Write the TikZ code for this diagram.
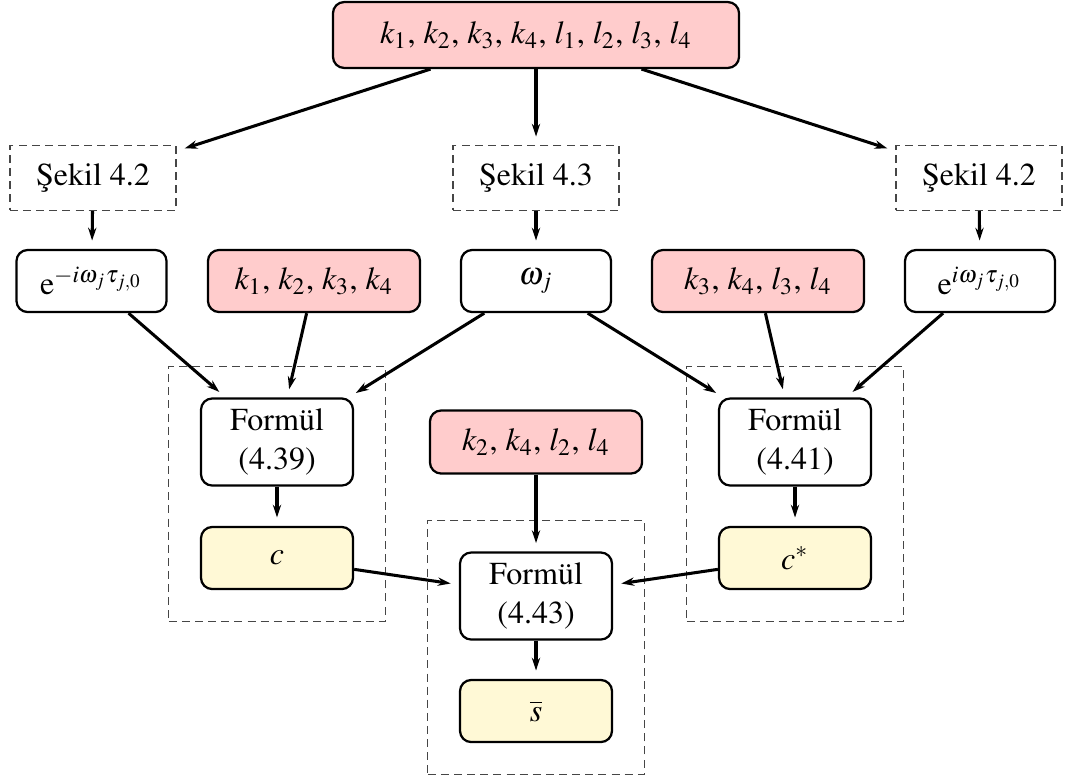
\documentclass[tikz,border=0pt]{standalone}
\usepackage[T1]{fontenc}
\usepackage{mathptmx}
\usetikzlibrary{arrows.meta,fit}
\definecolor{pinkfill}{RGB}{255,204,204}
\definecolor{creamfill}{RGB}{255,249,214}
\definecolor{dashgray}{RGB}{70,70,70}
\begin{document}
\begin{tikzpicture}[x=0.3125pt,y=-0.3125pt,
  box/.style={draw=black,line width=0.7pt,rounded corners=3.5pt,align=center,inner sep=0pt,font=\fontsize{10}{12}\selectfont},
  pinkbox/.style={box,fill=pinkfill,minimum width=66.3pt,minimum height=19.4pt},
  whitebox/.style={box,fill=white,minimum width=46.9pt,minimum height=19.4pt},
  formbox/.style={box,fill=white,minimum width=47.5pt,minimum height=27.2pt},
  resbox/.style={box,fill=creamfill,minimum width=47.5pt,minimum height=19.4pt},
  refbox/.style={draw=dashgray,line width=0.4pt,dash pattern=on 2.5pt off 1.6pt,minimum width=51.9pt,minimum height=20.3pt,inner sep=0pt,font=\fontsize{10}{12}\selectfont},
  groupbox/.style={draw=dashgray,line width=0.4pt,dash pattern=on 2.5pt off 1.6pt,inner sep=9.7pt},
  arr/.style={-{Stealth[length=4pt,width=2.6pt]},line width=0.95pt,shorten >=2.6pt}
]
\useasboundingbox (0,0) rectangle (1068,778);

\node[pinkbox,minimum width=126.9pt,minimum height=20.6pt] (top) at (536,35) {$k_1$, $k_2$, $k_3$, $k_4$, $l_1$, $l_2$, $l_3$, $l_4$};

\node[refbox] (s1) at (93,178) {\c{S}ekil 4.2};
\node[refbox] (s2) at (536,178) {\c{S}ekil 4.3};
\node[refbox] (s3) at (979,178) {\c{S}ekil 4.2};

\node[whitebox] (em) at (91.5,281) {$\mathrm{e}^{-i\omega_j\tau_{j,0}}$};
\node[pinkbox] (p1) at (314,281) {$k_1$, $k_2$, $k_3$, $k_4$};
\node[whitebox] (om) at (536,281) {$\omega_j$};
\node[pinkbox] (p2) at (758,281) {$k_3$, $k_4$, $l_3$, $l_4$};
\node[whitebox] (ep) at (980,281) {$\mathrm{e}^{i\omega_j\tau_{j,0}}$};

\node[formbox] (f1) at (277,442) {Form\"ul\\(4.39)};
\node[resbox] (c1) at (277,558) {$c$};
\node[pinkbox,minimum height=19.7pt] (p3) at (536,442) {$k_2$, $k_4$, $l_2$, $l_4$};
\node[formbox] (f3) at (536,596) {Form\"ul\\(4.43)};
\node[resbox] (sb) at (536,711) {$\overline{s}$};
\node[formbox] (f2) at (795,442) {Form\"ul\\(4.41)};
\node[resbox] (c2) at (795,558) {$c^*$};

\node[groupbox,fit=(f1)(c1)] (g1) {};
\node[groupbox,fit=(f3)(sb)] (g3) {};
\node[groupbox,fit=(f2)(c2)] (g2) {};

\draw[arr] (top) -- (s1);
\draw[arr] (top) -- (s2);
\draw[arr] (top) -- (s3);
\draw[arr] (s1) -- (em);
\draw[arr] (s2) -- (om);
\draw[arr] (s3) -- (ep);
\draw[arr] (em) -- (f1);
\draw[arr] (p1) -- (f1);
\draw[arr] (om) -- (f1);
\draw[arr] (om) -- (f2);
\draw[arr] (p2) -- (f2);
\draw[arr] (ep) -- (f2);
\draw[arr] (f1) -- (c1);
\draw[arr] (f2) -- (c2);
\draw[arr] (p3) -- (f3);
\draw[arr] (c1) -- (f3);
\draw[arr] (c2) -- (f3);
\draw[arr] (f3) -- (sb);
\end{tikzpicture}
\end{document}
